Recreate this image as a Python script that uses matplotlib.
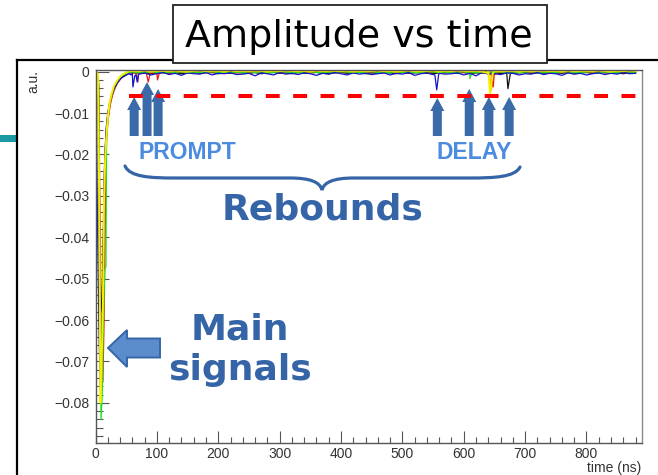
import numpy as np
import matplotlib
matplotlib.use("Agg")
import matplotlib.pyplot as plt
import matplotlib.transforms as mtransforms
from matplotlib.path import Path
from matplotlib.patches import PathPatch, Polygon, Rectangle
from matplotlib.lines import Line2D
from matplotlib.ticker import MultipleLocator, FuncFormatter

plt.rcParams["font.family"] = ["Liberation Sans", "DejaVu Sans"]
plt.rcParams["lines.scale_dashes"] = False

# ---------------------------------------------------------------- data
# Pulse region of each waveform: time (ns) and amplitude (a.u.)
pulse = {
    "yellow": ([0, 4, 6, 8, 10, 12, 14, 16, 18, 20, 23, 26, 30, 35, 40, 45, 50, 55],
               [0, -0.0005, -0.030, -0.080, -0.070, -0.057, -0.030, -0.020, -0.015,
                -0.011, -0.0075, -0.0055, -0.0035, -0.0022, -0.0012, -0.0006, -0.0002, 0.0001]),
    "green": ([0, 5, 7, 9, 11, 13, 15, 17, 18, 20, 22, 25, 28, 32, 36, 40, 45, 50, 55],
              [0, -0.002, -0.050, -0.084, -0.078, -0.060, -0.048, -0.047, -0.016, -0.012,
               -0.009, -0.0065, -0.005, -0.0035, -0.0025, -0.0016, -0.001, -0.0005, -0.0002]),
    "blue": ([0, 2, 4, 6, 8, 10, 12, 14, 16, 18, 20, 23, 26, 30, 35, 40, 45, 50, 55],
             [0, -0.020, -0.045, -0.065, -0.077, -0.070, -0.050, -0.030, -0.018, -0.013,
              -0.010, -0.0075, -0.0058, -0.0042, -0.0028, -0.0018, -0.0012, -0.0008, -0.0005]),
    "red": ([0, 5, 8, 10, 12, 14, 16, 18, 20, 24, 28, 32, 36, 40, 45, 50, 55],
            [0, -0.003, -0.055, -0.070, -0.075, -0.060, -0.035, -0.016, -0.012, -0.008,
             -0.0055, -0.0038, -0.0026, -0.0017, -0.0011, -0.0006, -0.0003]),
    "orange": ([0, 5, 8, 10, 12, 14, 16, 18, 21, 25, 30, 36, 42, 50, 55],
               [0, -0.002, -0.040, -0.062, -0.065, -0.050, -0.030, -0.017, -0.011, -0.007,
                -0.0045, -0.0027, -0.0015, -0.0007, -0.0003]),
    "purple": ([0, 4, 6, 8, 10, 12, 14, 17, 20, 25, 30, 36, 42, 50, 55],
               [0, -0.010, -0.050, -0.072, -0.066, -0.045, -0.025, -0.015, -0.0105, -0.0068,
                -0.0045, -0.0027, -0.0016, -0.0008, -0.0004]),
    "black": ([0, 5, 7, 9, 11, 13, 15, 18, 21, 25, 30, 36, 42, 50, 55],
              [0, -0.003, -0.040, -0.058, -0.055, -0.040, -0.022, -0.013, -0.0095, -0.0065,
               -0.0042, -0.0025, -0.0015, -0.0007, -0.0003]),
}

# Baseline after the pulse, sampled every 10 ns from 60 ns (units of 1e-4 a.u.)
BASE_T0, BASE_DT = 60, 10
baseline_e4 = {
    "yellow": [2, 1, 3, 0, 2, 2, 1, 3, 1, 0, 2, 3, 1, 2, 2, 0, 3, 1, 2, 1,
               3, 2, 0, 2, 1, 3, 2, 1, 2, 0, 3, 1, 2, 2, 1, 3, 0, 2, 1, 2,
               3, 1, 2, 0, 2, 3, 1, 1, 2, 3, 0, 2, 1, 3, 2, 1, 2, 0, 3, 2,
               1, 2, 3, 0, 2, 1, 2, 3, 1, 2, 0, 3, 1, 2, 2, 1, 3, 2, 0, 2,
               1, 3, 2],
    "blue": [-4, -7, -3, -8, -5, -2, -7, -4, -9, -3, -5, -6, -2, -8, -4, -5, -3, -7, -6, -4,
             -10, -3, -5, -8, -2, -6, -4, -7, -3, -5, -9, -4, -6, -2, -5, -8, -3, -6, -4, -7,
             -5, -3, -8, -4, -6, -2, -9, -5, -3, -7, -4, -6, -5, -3, -8, -4, -10, -2, -6, -5,
             -7, -3, -4, -8, -5, -6, -2, -7, -4, -5, -9, -3, -6, -4, -8, -5, -3, -7, -4, -6,
             -2, -5, -4],
    "black": [-2, -4, -3, -5, -2, -3, -4, -2, -5, -3, -2, -4, -3, -2, -5, -3, -4, -2, -3, -4,
              -2, -5, -3, -2, -4, -3, -5, -2, -4, -3, -2, -4, -5, -3, -2, -4, -3, -2, -5, -3,
              -4, -2, -3, -5, -2, -4, -3, -2, -4, -5, -3, -2, -3, -4, -2, -5, -3, -4, -2, -3,
              -5, -2, -4, -3, -2, -4, -3, -5, -2, -3, -4, -2, -5, -3, -2, -4, -3, -2, -4, -3,
              -5, -2, -3],
    "green": [-1, -3, -2, 0, -2, -3, -1, -2, 0, -3, -1, -2, -2, 0, -3, -1, -2, -1, -3, 0,
              -2, -1, -3, -2, 0, -1, -2, -3, -1, 0, -2, -3, -1, -2, 0, -1, -3, -2, -1, 0,
              -2, -1, -3, 0, -2, -1, -2, -3, 0, -1, -2, -1, -3, -2, 0, -1, -2, -3, -1, -2,
              0, -3, -1, -2, -1, 0, -2, -3, -1, -2, 0, -1, -3, -2, -1, 0, -2, -1, -3, -2,
              0, -1, -2],
    "red": [-2, -1, -3, -2, 0, -1, -3, -2, -1, -2, 0, -3, -1, -2, -2, -1, 0, -3, -2, -1,
            -2, -3, 0, -1, -2, -1, -3, -2, 0, -2, -1, -3, -1, -2, 0, -2, -3, -1, -2, -1,
            0, -3, -2, -1, -2, 0, -1, -3, -2, -1, -2, -3, 0, -1, -2, -2, -1, -3, 0, -2,
            -1, -2, -3, -1, 0, -2, -1, -3, -2, -1, 0, -2, -3, -1, -2, -1, 0, -3, -2, -1,
            -2, -1, -3],
    "orange": [-1, 0, -2, -1, 0, -1, -2, 0, -1, -1, 0, -2, -1, 0, -1, -2, -1, 0, -1, -2,
               0, -1, -1, -2, 0, -1, 0, -2, -1, -1, 0, -1, -2, 0, -1, -1, -2, 0, -1, 0,
               -1, -2, -1, 0, -1, -1, 0, -2, -1, 0, -1, -2, 0, -1, -1, 0, -2, -1, 0, -1,
               -1, 0, -2, -1, 0, -1, -2, -1, 0, -1, 0, -2, -1, -1, 0, -1, -2, 0, -1, -1,
               0, -2, -1],
    "purple": [-2, -1, 0, -1, -2, -1, 0, -2, -1, -1, -2, 0, -1, -2, -1, 0, -1, -2, -1, 0,
               -2, -1, 0, -1, -1, -2, 0, -1, -2, -1, 0, -2, -1, -1, 0, -2, -1, 0, -1, -2,
               -1, 0, -2, -1, -1, 0, -2, -1, 0, -1, -2, -1, 0, -1, -2, -1, 0, -2, -1, -1,
               0, -1, -2, -1, 0, -2, -1, -1, 0, -2, -1, 0, -1, -2, -1, 0, -1, -2, -1, 0,
               -2, -1, 0],
}

# Rebound dips (prompt: < 110 ns, delay: 550-680 ns)
dips = {
    "blue": ([58, 61, 64, 66, 68, 71, 553, 556, 559],
             [-0.0008, -0.0037, -0.0010, -0.0008, -0.0025, -0.0006, -0.0008, -0.0044, -0.0008]),
    "red": ([66, 69, 72, 83, 86, 89, 98, 101, 104, 645, 648, 651],
            [-0.0005, -0.0025, -0.0005, -0.0005, -0.0025, -0.0004, -0.0004, -0.0020, -0.0004,
             -0.0006, -0.0037, -0.0006]),
    "green": ([607, 610, 613], [-0.0003, -0.0017, -0.0003]),
    "yellow": ([639, 643, 647], [-0.0003, -0.0054, -0.0006]),
    "orange": ([642, 645, 649], [-0.0005, -0.0045, -0.0005]),
    "black": ([668, 672, 676], [-0.0004, -0.0041, -0.0004]),
}

trace_colors = {
    "purple": "#7a35b0", "orange": "#ff9a00", "black": "#111111", "red": "#f01818",
    "green": "#1ee01e", "blue": "#1414c8", "yellow": "#f2f200",
}
trace_widths = {"yellow": 1.4}
draw_order = ["purple", "orange", "black", "red", "green", "blue", "yellow"]

threshold_level = -0.0058
threshold_span = (55, 880)

prompt_times = [63, 84, 102]
delay_times = [557, 609, 641, 674]
prompt_tips_px = [97, 82, 89]
delay_tips_px = [98, 89, 97, 97]

# ---------------------------------------------------------------- figure
W, H = 658, 475
fig = plt.figure(figsize=(W / 100, H / 100), dpi=100)
fig.patch.set_facecolor("white")
px = mtransforms.Affine2D().scale(1, -1).translate(0, H)   # top-left pixel frame

ax = fig.add_axes([95.5 / W, 1 - 443 / H, (641.7 - 95.5) / W, (443 - 70) / H])
ax.set_xlim(0, 890)
ax.set_ylim(-0.0897, 0.0004)

for name in draw_order:
    t_p, a_p = pulse[name]
    base = np.array(baseline_e4[name]) * 1e-4
    t_b = BASE_T0 + BASE_DT * np.arange(len(base))
    t_d, a_d = dips.get(name, ([], []))
    t_all = np.concatenate([t_p, t_b, t_d])
    a_all = np.concatenate([a_p, base, a_d])
    order = np.argsort(t_all, kind="stable")
    ax.plot(t_all[order], a_all[order], color=trace_colors[name],
            lw=trace_widths.get(name, 0.9), zorder=2)

ax.plot(threshold_span, [threshold_level, threshold_level], color="#ff0000", lw=2.9,
        dashes=(10, 9.7), solid_capstyle="butt", dash_capstyle="butt", zorder=5)

# axes styling
for s in ax.spines.values():
    s.set_color("#555555")
    s.set_linewidth(1.0)
ax.spines["right"].set_color("#8a8a8a")
ax.xaxis.set_major_locator(MultipleLocator(100))
ax.xaxis.set_minor_locator(MultipleLocator(20))
ax.yaxis.set_major_locator(MultipleLocator(0.01))
ax.yaxis.set_minor_locator(MultipleLocator(0.002))
ax.yaxis.set_major_formatter(FuncFormatter(
    lambda v, p: "0" if abs(v) < 1e-9 else ("\u2212%.2f" % abs(v))))
ax.xaxis.set_major_formatter(FuncFormatter(lambda v, p: "%d" % round(v)))
ax.tick_params(which="both", direction="in", top=False, right=False,
               color="#555555", labelcolor="#333333", labelsize=10, width=0.8)
ax.tick_params(axis="y", which="major", length=9.5, pad=4.5)
ax.tick_params(axis="y", which="minor", length=5)
ax.tick_params(axis="x", which="major", length=8.6, pad=3)
ax.tick_params(axis="x", which="minor", length=4.3)

fig.text(641 / W, 1 - 468 / H, "time (ns)", ha="right", va="center", fontsize=10,
         color="#333333")
fig.text(33 / W, 1 - 70 / H, "a.u.", ha="center", va="top", rotation=90, fontsize=10,
         color="#333333")

# ---------------------------------------------------------------- annotations
arrow_c = "#3a6aa8"
text_c = "#3565a7"
light_c = "#4b8be0"


def up_arrow(xc, tip, base=136, w=9, hw=14, hl=13):
    pts = [(xc - w / 2, base), (xc - w / 2, tip + hl), (xc - hw / 2, tip + hl), (xc, tip),
           (xc + hw / 2, tip + hl), (xc + w / 2, tip + hl), (xc + w / 2, base)]
    ax.add_patch(Polygon(pts, closed=True, transform=px, facecolor=arrow_c,
                         edgecolor="none", clip_on=False, zorder=4))


for t, tip in zip(prompt_times + delay_times, prompt_tips_px + delay_tips_px):
    xc = ax.transData.transform((t, 0))[0]
    up_arrow(xc, tip)

ax.text(187.5, 159, "PROMPT", transform=px, ha="center", va="baseline",
        fontsize=16.5, fontweight="bold", color=light_c, family="Liberation Sans", zorder=6)
ax.text(474.5, 159, "DELAY", transform=px, ha="center", va="baseline",
        fontsize=16.5, fontweight="bold", color=light_c, family="Liberation Sans", zorder=6)

brace = Path([(125, 166), (130, 177), (150, 178), (175, 178), (290, 178),
              (310, 178), (320, 182), (322, 190),
              (324, 182), (334, 178), (354, 178), (470, 178),
              (495, 178), (515, 177), (520, 167)],
             [Path.MOVETO, Path.CURVE4, Path.CURVE4, Path.CURVE4, Path.LINETO,
              Path.CURVE4, Path.CURVE4, Path.CURVE4,
              Path.CURVE4, Path.CURVE4, Path.CURVE4, Path.LINETO,
              Path.CURVE4, Path.CURVE4, Path.CURVE4])
ax.add_patch(PathPatch(brace, transform=px, facecolor="none", edgecolor=text_c,
                       lw=2.3, capstyle="round", clip_on=False, zorder=6))

ax.text(323, 220, "Rebounds", transform=px, ha="center", va="baseline", fontsize=26,
        fontweight="bold", color=text_c, family="DejaVu Sans", zorder=6)
ax.text(240, 340, "Main", transform=px, ha="center", va="baseline", fontsize=26,
        fontweight="bold", color=text_c, family="DejaVu Sans", zorder=6)
ax.text(240, 380, "signals", transform=px, ha="center", va="baseline", fontsize=26,
        fontweight="bold", color=text_c, family="DejaVu Sans", zorder=6)

block = [(108, 348), (127, 330), (127, 338.5), (160, 338.5), (160, 357.5),
         (127, 357.5), (127, 367)]
ax.add_patch(Polygon(block, closed=True, transform=px, facecolor="#5b8dcc",
                     edgecolor="#3566a6", lw=1.4, joinstyle="miter", clip_on=False, zorder=6))

# ---------------------------------------------------------------- page frame and title
fig.add_artist(Rectangle((0, 134.5), 17, 7, transform=px, facecolor="#1b99a4",
                         edgecolor="none"))
fig.add_artist(Line2D([17, 658], [60, 60], transform=px, color="black", lw=1.6))
fig.add_artist(Line2D([17, 17], [60, 475], transform=px, color="black", lw=1.6))
fig.add_artist(Rectangle((173, 5), 374, 58, transform=px, facecolor="white",
                         edgecolor="#222222", lw=1.3, zorder=3))
fig.text(358.5 / W, 1 - 47 / H, "Amplitude vs time", ha="center", va="baseline",
         fontsize=27.4, family="DejaVu Sans", color="black", zorder=4)

fig.savefig("out.png", dpi=100, facecolor="white")
